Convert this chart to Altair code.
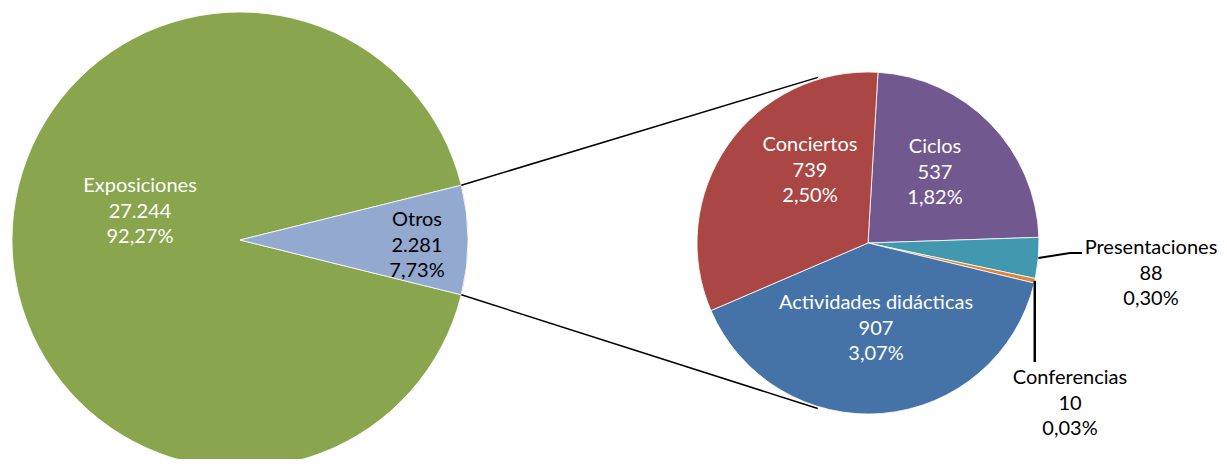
import math
import altair as alt
import pandas as pd

# ---- data ----
main_cats = ["Exposiciones", "Otros"]
main_vals = [27244, 2281]
sub_cats = ["Ciclos", "Presentaciones", "Conferencias", "Actividades didácticas", "Conciertos"]
sub_vals = [537, 88, 10, 907, 739]

# ---- style ----
main_colors = ["#89A54E", "#93A9CF"]
sub_colors = ["#71588F", "#4198AF", "#DB843D", "#4572A7", "#AA4643"]
FONT = "Lato"

total = sum(main_vals)


def fmt_int(v):
    return f"{v:,}".replace(",", ".")


def fmt_pct(v):
    return f"{100 * v / total:.2f}%".replace(".", ",")


W, H = 1211, 451
LCX, LCY, LR = 232, 232, 228
RCX, RCY, RR = 860, 235, 171

otros_frac = main_vals[1] / total
main_start = math.pi / 2 - otros_frac * math.pi
sub_start = math.radians(3.35)


def pt(cx, cy, r, a):
    return cx + r * math.sin(a), cy - r * math.cos(a)


df_main = pd.DataFrame({"cat": main_cats, "val": main_vals, "ord": [1, 0]})
df_sub = pd.DataFrame({"cat": sub_cats, "val": sub_vals, "ord": list(range(len(sub_cats)))})

left = alt.Chart(df_main).mark_arc(radius=LR, stroke="white", strokeWidth=0.8).encode(
    theta=alt.Theta("val:Q", stack=True,
                    scale=alt.Scale(range=[main_start, main_start + 2 * math.pi])),
    color=alt.Color("cat:N", scale=alt.Scale(domain=main_cats, range=main_colors), legend=None),
    order=alt.Order("ord:Q"),
    x=alt.value(LCX), y=alt.value(LCY),
)

right = alt.Chart(df_sub).mark_arc(radius=RR, stroke="white", strokeWidth=0.8).encode(
    theta=alt.Theta("val:Q", stack=True,
                    scale=alt.Scale(range=[sub_start, sub_start + 2 * math.pi])),
    color=alt.Color("cat:N", scale=alt.Scale(domain=sub_cats, range=sub_colors), legend=None),
    order=alt.Order("ord:Q"),
    x=alt.value(RCX), y=alt.value(RCY),
)

# connector lines between pies
a_top = main_start
a_bot = main_start + otros_frac * 2 * math.pi
x1, y1 = pt(LCX, LCY, LR, a_top)
x2, y2 = pt(RCX, RCY, RR + 2, math.radians(-16.8))
x3, y3 = pt(LCX, LCY, LR, a_bot)
x4, y4 = pt(RCX, RCY, RR + 2, math.radians(196.9))

# leader lines for the small slices
sub_total = sum(sub_vals)
cum = [sum(sub_vals[:i]) for i in range(len(sub_vals) + 1)]
ang = lambda v: sub_start + v / sub_total * 2 * math.pi
pres_mid = ang((cum[1] + cum[2]) / 2)
conf_mid = ang((cum[2] + cum[3]) / 2)
px, py = pt(RCX, RCY, RR, pres_mid)
cx_, cy_ = pt(RCX, RCY, RR, conf_mid)

segs = pd.DataFrame({
    "x": [x1, x3, px, 1062, cx_],
    "y": [y1, y3, py, 245, cy_],
    "x2": [x2, x4, 1062, 1074, cx_],
    "y2": [y2, y4, 245, 245, 354],
    "w": [1.5, 1.5, 2, 2, 2.5],
})

lines = alt.Chart(segs).mark_rule(color="black").encode(
    x=alt.X("x:Q", scale=None, axis=None),
    y=alt.Y("y:Q", scale=None, axis=None),
    x2="x2:Q", y2="y2:Q",
    strokeWidth=alt.StrokeWidth("w:Q", scale=None, legend=None),
)

# labels (position = centre of first line)
label_pos = {
    "Exposiciones": (132, 178, "white"),
    "Otros": (409, 212, "black"),
    "Conciertos": (802, 137, "white"),
    "Ciclos": (927, 139, "white"),
    "Actividades didácticas": (868, 295, "white"),
    "Presentaciones": (1143, 240, "black"),
    "Conferencias": (1062, 370, "black"),
}
rows = []
for c, v in list(zip(main_cats, main_vals)) + list(zip(sub_cats, sub_vals)):
    lx, ly, col = label_pos[c]
    rows.append({"x": lx, "y": ly, "col": col,
                 "text": f"{c}\n{fmt_int(v)}\n{fmt_pct(v)}"})
df_lab = pd.DataFrame(rows)

labels = alt.Chart(df_lab).mark_text(
    lineBreak="\n", font=FONT, fontSize=20, lineHeight=25.5,
    baseline="middle", align="center",
).encode(
    x=alt.X("x:Q", scale=None, axis=None),
    y=alt.Y("y:Q", scale=None, axis=None),
    text="text:N",
    color=alt.Color("col:N", scale=None, legend=None),
)

chart = alt.layer(left, right, lines, labels).resolve_scale(
    theta="independent", color="independent"
).properties(
    width=W, height=H, padding=0,
    autosize=alt.AutoSizeParams(type="none"),
).configure_view(stroke=None)

chart.save("out.html", embed_options={"renderer": "svg", "actions": False})
